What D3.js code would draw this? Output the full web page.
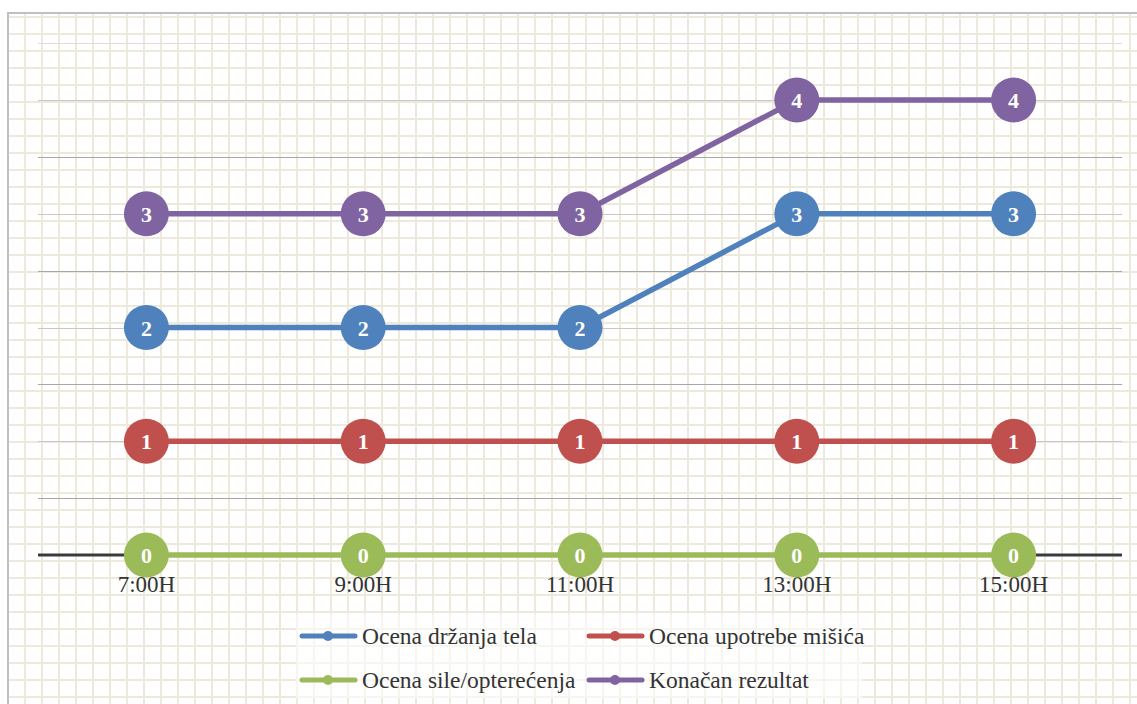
<!DOCTYPE html>
<html>
<head>
<meta charset="utf-8">
<script src="https://cdn.jsdelivr.net/npm/d3@7"></script>
<style>
body { margin:0; background:#fff; }
svg { display:block; }
.tick-label { font-family:"Liberation Serif","Times New Roman",serif; font-size:23px; fill:#333; }
.pt-label { font-family:"Liberation Serif","Times New Roman",serif; font-size:22px; font-weight:bold; fill:#fff; }
.legend-text { font-family:"Liberation Serif","Times New Roman",serif; font-size:23.5px; fill:#333; }
</style>
</head>
<body>
<script>
var times = ['7:00H', '9:00H', '11:00H', '13:00H', '15:00H']
var seriesNames = ['Ocena držanja tela', 'Ocena upotrebe mišića', 'Ocena sile/opterećenja', 'Konačan rezultat']
var seriesColors = ['#4f81bd', '#c0504d', '#9bbb59', '#8064a2']
var drzanje = [2, 2, 2, 3, 3]
var misici = [1, 1, 1, 1, 1]
var sila = [0, 0, 0, 0, 0]
var rezultat = [3, 3, 3, 4, 4]
var gridValues = [0.5, 1, 1.5, 2, 2.5, 3, 3.5, 4, 4.5]

var W = 1137, H = 704
var svg = d3.select("body").append("svg").attr("width", W).attr("height", H)

// paper grid background
var defs = svg.append("defs")
var pat = defs.append("pattern")
    .attr("id","paper")
    .attr("patternUnits","userSpaceOnUse")
    .attr("x", 24).attr("y", 33)
    .attr("width",17).attr("height",17)
pat.append("rect").attr("width",17).attr("height",17).attr("fill","#fff")
pat.append("rect").attr("x",0).attr("width",2).attr("height",17).attr("fill","#ede9dc")
pat.append("rect").attr("y",0).attr("width",17).attr("height",2).attr("fill","#ede9dc")

svg.append("rect")
    .attr("x",9).attr("y",14).attr("width",W).attr("height",H)
    .attr("fill","url(#paper)")
svg.append("rect")
    .attr("x",8).attr("y",13).attr("width",W+10).attr("height",H+10)
    .attr("fill","none").attr("stroke","#c0c0c0").attr("stroke-width",2)

var x = d3.scaleBand().domain(times).range([38, 1122])
var y = d3.scaleLinear().domain([0, 4]).range([555, 100])
var cx = function(d, i) { return x(times[i]) + x.bandwidth()/2 }

// horizontal grid lines
svg.append("g").selectAll("line")
    .data(gridValues)
    .enter().append("line")
    .attr("x1", 38).attr("x2", 1122)
    .attr("y1", function(d){ return Math.round(y(d)) + 0.5 })
    .attr("y2", function(d){ return Math.round(y(d)) + 0.5 })
    .attr("stroke", function(d){ return d === 4.5 ? "#dcdcdc" : (d % 1 === 0.5 ? "#a6a6a6" : "#c8c8c8") })
    .attr("stroke-width", 1)

// x axis line
svg.append("line")
    .attr("x1", 38).attr("x2", 1122)
    .attr("y1", y(0)).attr("y2", y(0))
    .attr("stroke", "#3a3a3a").attr("stroke-width", 3)

// tick labels
svg.append("g").selectAll("text")
    .data(times)
    .enter().append("text")
    .attr("class","tick-label")
    .attr("text-anchor","middle")
    .attr("x", function(d){ return x(d) + x.bandwidth()/2 })
    .attr("y", 592)
    .text(function(d){ return d })

var allSeries = [drzanje, misici, sila, rezultat]
var order = [2, 1, 0, 3]
var line = d3.line().x(cx).y(function(d){ return y(d) })

order.forEach(function(s) {
    var data = allSeries[s]
    var g = svg.append("g")
    g.append("path")
        .attr("d", line(data))
        .attr("fill","none")
        .attr("stroke", seriesColors[s])
        .attr("stroke-width", 5.5)
    g.selectAll("circle")
        .data(data)
        .enter().append("circle")
        .attr("cx", cx)
        .attr("cy", function(d){ return y(d) })
        .attr("r", 22.5)
        .attr("fill", seriesColors[s])
    g.selectAll("text")
        .data(data)
        .enter().append("text")
        .attr("class","pt-label")
        .attr("text-anchor","middle")
        .attr("x", cx)
        .attr("y", function(d){ return y(d) + 8 })
        .text(function(d){ return d })
})

// legend
var legend = svg.append("g")
legend.append("rect")
    .attr("x", 296).attr("y", 614).attr("width", 566).attr("height", 84)
    .attr("fill", "#fff").attr("opacity", 0.55)
var legPos = [[300, 636], [587, 636], [300, 680], [587, 680]]
seriesNames.forEach(function(name, i) {
    var p = legPos[i]
    legend.append("line")
        .attr("x1", p[0]+2).attr("x2", p[0]+55)
        .attr("y1", p[1]).attr("y2", p[1])
        .attr("stroke", seriesColors[i]).attr("stroke-width", 5)
        .attr("stroke-linecap","round")
    legend.append("circle")
        .attr("cx", p[0]+28).attr("cy", p[1]).attr("r", 5)
        .attr("fill", seriesColors[i])
    legend.append("text")
        .attr("class","legend-text")
        .attr("x", p[0]+62).attr("y", p[1]+8)
        .text(name)
})
</script>
</body>
</html>
